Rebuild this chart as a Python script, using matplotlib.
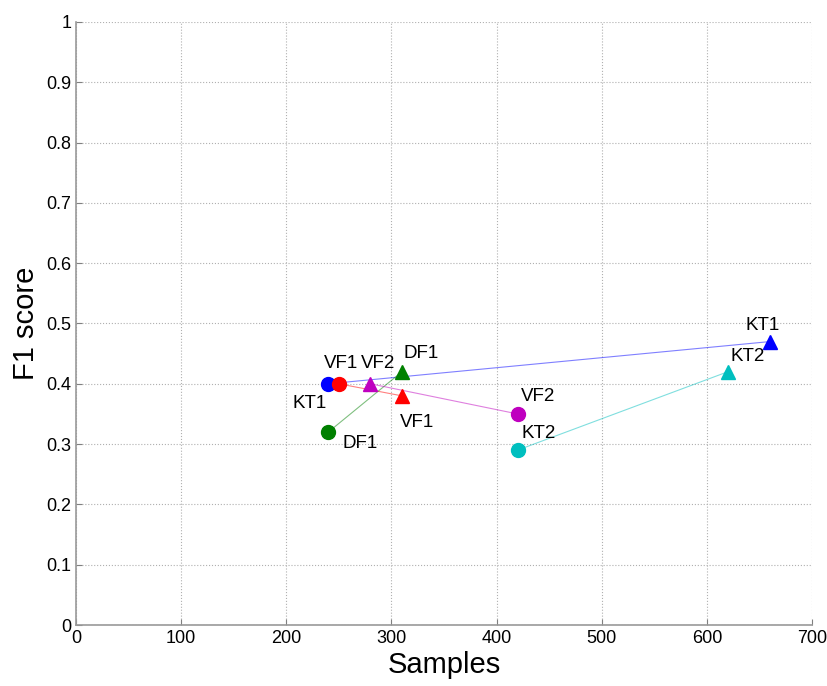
import matplotlib
matplotlib.use("Agg")
import matplotlib.pyplot as plt

plt.rcParams['font.family'] = ['Liberation Sans', 'DejaVu Sans']

# one series per method: first point (circle) and second point (triangle)
names = ["KT1", "VF1", "DF1", "VF2", "KT2"]
colors = ["#0000ff", "#ff0000", "#008000", "#bf00bf", "#00bfbf"]
circle_x = [240, 250, 240, 420, 420]
circle_y = [0.40, 0.40, 0.32, 0.35, 0.29]
tri_x = [660, 310, 310, 280, 620]
tri_y = [0.47, 0.38, 0.42, 0.40, 0.42]

circle_lbl = ["KT1", "VF1", "DF1", "VF2", "KT2"]
tri_lbl = ["KT1", "VF1", "DF1", "VF2", "KT2"]

# label offsets in pixels (left edge, vertical centre)
circle_off = [(-36, -20), (-15, 20), (14, -11), (3, 17), (4, 17)]
tri_off = [(-24, 16), (-2, -27), (2, 18), (-9, 20), (3, 15)]

x_ticks = [0, 100, 200, 300, 400, 500, 600, 700]
y_ticks = [0, 0.1, 0.2, 0.3, 0.4, 0.5, 0.6, 0.7, 0.8, 0.9, 1]

fig = plt.figure(figsize=(8.28, 6.86), dpi=100)
ax = fig.add_axes([0.0918, 0.0889, 0.8889, 0.8791])

for i in range(len(names)):
    c = colors[i]
    ax.plot([circle_x[i], tri_x[i]], [circle_y[i], tri_y[i]], '-', color=c,
            lw=0.8, alpha=0.5, zorder=2)
    ax.plot(circle_x[i], circle_y[i], 'o', color=c, ms=10, zorder=3)
    ax.plot(tri_x[i], tri_y[i], '^', color=c, ms=10, zorder=3)
    ax.annotate(circle_lbl[i], (circle_x[i], circle_y[i]), xytext=circle_off[i],
                textcoords='offset pixels', ha='left', va='center', fontsize=13.5)
    ax.annotate(tri_lbl[i], (tri_x[i], tri_y[i]), xytext=tri_off[i],
                textcoords='offset pixels', ha='left', va='center', fontsize=13.5)

ax.set_xlim(0, 700)
ax.set_ylim(0, 1)
ax.set_xticks(x_ticks)
ax.set_yticks(y_ticks)
ax.set_yticklabels(["0", "0.1", "0.2", "0.3", "0.4", "0.5", "0.6", "0.7", "0.8", "0.9", "1"])
ax.tick_params(direction='in', labelsize=13, color='#808080', length=4)
ax.grid(True, linestyle=':', color='#b0b0b0', lw=0.8)
ax.set_axisbelow(True)
ax.spines[['right', 'top']].set_visible(False)
for s in ['left', 'bottom']:
    ax.spines[s].set_color('#999999')
    ax.spines[s].set_linewidth(1.2)

ax.set_xlabel("Samples", fontsize=21, labelpad=3)
ax.set_ylabel("F1 score", fontsize=21, labelpad=4)

fig.savefig("out.png", dpi=100)
